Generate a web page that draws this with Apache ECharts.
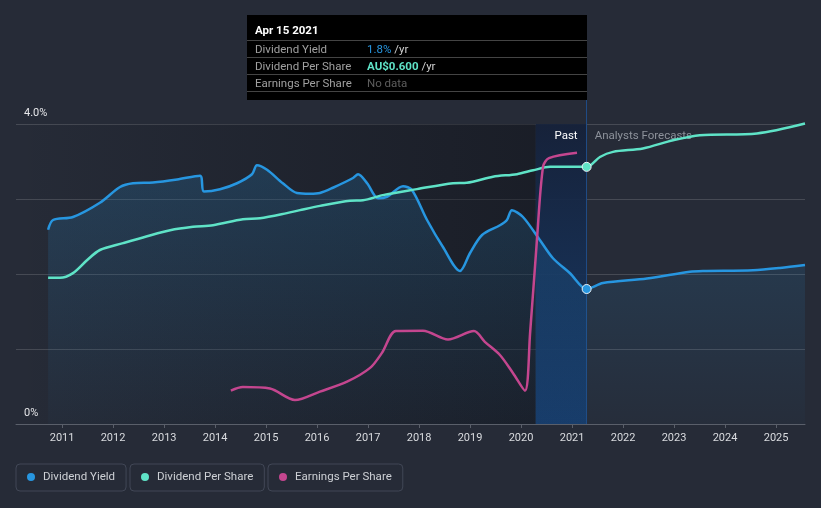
<!DOCTYPE html>
<html><head><meta charset="utf-8">
<script src="https://cdn.jsdelivr.net/npm/echarts@6/dist/echarts.min.js"></script>
<style>html,body{margin:0;padding:0;background:#262b37;}#c{width:821px;height:508px;}</style>
</head><body><div id="c"></div>
<script>
// ---------------- DATA ----------------
const yearTicks = [2011,2012,2013,2014,2015,2016,2017,2018,2019,2020,2021,2022,2023,2024,2025];
const currentDate = '2021-04-15';
const pastBandStart = '2020-04-15';

const yieldDates = ['2010-09-23','2010-10-28','2011-03-20','2011-09-29','2012-02-20','2012-05-23','2012-10-13','2013-04-04','2013-09-15','2013-10-13','2014-02-05','2014-06-07','2014-09-22','2014-10-28','2015-01-08','2015-05-01','2015-08-10','2015-11-11','2016-01-22','2016-04-24','2016-09-15','2016-10-21','2016-12-25','2017-03-13','2017-05-16','2017-09-08','2017-11-11','2018-02-27','2018-06-21','2018-10-21','2019-01-01','2019-03-28','2019-08-03','2019-09-22','2019-10-28','2020-01-15','2020-05-16','2020-08-17','2020-12-17','2021-04-15','2021-08-10','2022-06-21','2023-04-24','2023-07-27','2024-07-19','2025-01-29','2025-07-27'];
const yieldValues = [2.59,2.72,2.76,2.95,3.16,3.21,3.22,3.26,3.31,3.10,3.13,3.21,3.33,3.45,3.39,3.21,3.08,3.07,3.08,3.15,3.28,3.33,3.21,3.01,3.03,3.17,3.12,2.72,2.36,2.04,2.28,2.52,2.65,2.72,2.85,2.76,2.45,2.21,2.01,1.8,1.88,1.94,2.03,2.04,2.05,2.08,2.12];

const dpsDates = ['2010-09-23','2010-12-17','2011-03-20','2011-06-28','2011-09-29','2012-03-13','2012-09-01','2013-02-13','2013-07-27','2013-12-17','2014-07-19','2014-11-18','2015-05-30','2015-09-01','2016-01-22','2016-08-24','2016-11-25','2017-04-17','2017-12-17','2018-09-01','2018-12-09','2019-06-14','2019-12-03','2020-03-28','2020-07-27','2021-04-15','2021-07-19','2021-10-21','2022-05-23','2022-12-25','2023-07-05','2024-08-17','2025-07-27'];
const dpsValues = [0.341,0.341,0.352,0.382,0.406,0.422,0.438,0.452,0.460,0.464,0.478,0.480,0.492,0.499,0.509,0.521,0.522,0.534,0.548,0.562,0.563,0.577,0.583,0.592,0.600,0.600,0.623,0.635,0.643,0.662,0.674,0.678,0.701];

const epsDates = ['2014-04-24','2014-07-19','2015-01-29','2015-07-27','2016-01-22','2016-08-03','2017-01-15','2017-04-10','2017-07-19','2018-01-29','2018-07-27','2019-01-29','2019-04-17','2019-08-03','2019-11-04','2020-01-29','2020-03-06','2020-04-24','2020-06-07','2020-07-19','2021-02-05'];
const epsValues = [0.111,0.123,0.118,0.080,0.108,0.141,0.187,0.237,0.310,0.311,0.282,0.310,0.274,0.230,0.170,0.111,0.303,0.613,0.858,0.886,0.904];

// ---------------- STYLE ----------------
const BLUE = '#2796e0', TEAL = '#5fe3c7', PINK = '#c4468f';
const FONT = 'Roboto, "Noto Sans", sans-serif';
function ts(s){ const p = s.split('-').map(Number); return new Date(p[0], p[1]-1, p[2]).getTime(); }
const X_MIN = new Date(2010,1,5).getTime();
const X_MAX = new Date(2025,6,27).getTime();
const yearStamps = yearTicks.map(y=>new Date(y,0,1).getTime());

function build(dates, vals, color){
  return dates.map((d,i)=>{
    if (d === currentDate) {
      return {value:[ts(d), vals[i]], symbol:'circle', symbolSize:9,
        itemStyle:{color:color, borderColor:'#eef3f8', borderWidth:1}};
    }
    return {value:[ts(d), vals[i]]};
  });
}
const yieldData = build(yieldDates, yieldValues, BLUE);
const dpsData = build(dpsDates, dpsValues, TEAL);
const epsData = build(epsDates, epsValues, PINK);
const curIdx = yieldDates.indexOf(currentDate);

const chart = echarts.init(document.getElementById('c'), null, {renderer:'canvas'});

const legendCommon = {
  orient:'horizontal', icon:'circle', itemWidth:8, itemHeight:8, top:464,
  borderColor:'#414756', borderWidth:1, borderRadius:4, padding:[6,11,7,11],
  selectedMode:false,
  textStyle:{color:'#cdd0d5', fontSize:11.5, fontFamily:FONT, lineHeight:14, padding:[0,0,0,3]}
};

const tipHtml = `<div style="width:340px;height:85px;box-sizing:border-box;padding-top:7px;font-family:Roboto,sans-serif;font-size:11.5px;">
<div style="line-height:16px;height:16px;padding-left:8px;color:#fff;font-weight:bold;margin-bottom:2px;">Apr 15 2021</div>
<div style="border-top:1px solid #444;height:16px;line-height:16px;padding-left:8px;display:flex;"><span style="width:112px;color:#a0a0a0;">Dividend Yield</span><span style="color:${BLUE};">1.8%</span><span style="color:#d0d0d0;">&nbsp;/yr</span></div>
<div style="border-top:1px solid #444;height:16px;line-height:16px;padding-left:8px;display:flex;"><span style="width:112px;color:#a0a0a0;">Dividend Per Share</span><span style="color:${TEAL};font-weight:bold;">AU$0.600</span><span style="color:#d0d0d0;">&nbsp;/yr</span></div>
<div style="border-top:1px solid #444;border-bottom:1px solid #444;height:16px;line-height:16px;padding-left:8px;display:flex;"><span style="width:112px;color:#a0a0a0;">Earnings Per Share</span><span style="color:#5e5e5e;">No data</span></div>
</div>`;

const option = {
  animation:false,
  backgroundColor:'#262b37',
  textStyle:{fontFamily:FONT},
  grid:{left:16, right:16, top:100, bottom:84, containLabel:false, outerBoundsMode:'none'},
  tooltip:{
    trigger:'item', triggerOn:'none', alwaysShowContent:true,
    position:[247,15], padding:0, backgroundColor:'#000', borderWidth:0,
    transitionDuration:0, confine:false,
    extraCssText:'box-shadow:none;border-radius:0;',
    formatter:()=>tipHtml
  },
  legend:[
    Object.assign({}, legendCommon, {left:16, data:['Dividend Yield']}),
    Object.assign({}, legendCommon, {left:130, data:['Dividend Per Share']}),
    Object.assign({}, legendCommon, {left:268, data:['Earnings Per Share']})
  ],
  xAxis:{
    type:'value', min:X_MIN, max:X_MAX, scale:true,
    axisLine:{show:true, lineStyle:{color:'#5a5f6a', width:1}},
    axisTick:{show:true, length:4, lineStyle:{color:'#5a5f6a'}, customValues: yearStamps},
    axisLabel:{color:'#d9dbdf', fontSize:11, fontFamily:FONT, margin:9,
      customValues: yearStamps,
      formatter:(v)=>String(new Date(v).getFullYear())},
    splitLine:{show:false}
  },
  yAxis:[
    {type:'value', min:0, max:4.32, interval:1,
      axisLine:{show:false}, axisTick:{show:false},
      splitLine:{show:true, showMaxLine:false, lineStyle:{color:'rgba(255,255,255,0.15)', width:1}},
      axisLabel:{inside:true, margin:8, color:'#e6e7ea', fontSize:11, fontFamily:FONT,
        verticalAlign:'bottom', padding:[0,0,5,0],
        formatter:(v)=> v===0 ? '0%' : (v===4 ? '4.0%' : '')}},
    {type:'value', min:0, max:0.756, show:false, splitLine:{show:false}},
    {type:'value', min:0, max:1.08, show:false, splitLine:{show:false}}
  ],
  series:[
    {name:'Dividend Yield', type:'line', yAxisIndex:0, data:yieldData, smooth:0.3,
      symbol:'none', showSymbol:true, z:3,
      lineStyle:{color:BLUE, width:2.5}, itemStyle:{color:BLUE},
      areaStyle:{color:{type:'linear', x:0, y:0, x2:0, y2:1, colorStops:[
        {offset:0, color:'rgba(39,150,224,0.28)'}, {offset:1, color:'rgba(39,150,224,0.03)'}]}},
      markArea:{silent:true, z:1, data:[
        [{coord:[X_MIN,0], itemStyle:{color:{type:'linear', x:0, y:0, x2:1, y2:0, colorStops:[
            {offset:0, color:'rgba(8,10,16,0)'}, {offset:1, color:'rgba(8,10,16,0.4)'}]}}},
         {coord:[ts(pastBandStart),4]}],
        [{coord:[ts(pastBandStart),0], name:'Past',
          itemStyle:{color:{type:'linear', x:0, y:0, x2:0, y2:1, colorStops:[
            {offset:0, color:'rgba(21,33,58,0.92)'}, {offset:1, color:'rgba(22,60,108,0.92)'}]}},
          label:{show:true, position:'insideTopRight', distance:5, offset:[-4,1], color:'#ffffff', fontSize:11.5, fontFamily:FONT}},
         {coord:[ts(currentDate),4]}],
        [{coord:[ts(currentDate),0], name:'Analysts Forecasts',
          itemStyle:{color:'rgba(0,0,0,0)'},
          label:{show:true, position:'insideTopLeft', distance:5, offset:[3,1], color:'#8d929b', fontSize:11.5, fontFamily:FONT}},
         {coord:[X_MAX,4]}]
      ]},
      markLine:{silent:true, z:2, symbol:['none','none'], label:{show:false},
        lineStyle:{color:'#1f4b85', width:1, type:'solid'},
        data:[{xAxis:ts(currentDate)}]}
    },
    {name:'Dividend Per Share', type:'line', yAxisIndex:1, data:dpsData, smooth:0.3,
      symbol:'none', showSymbol:true, z:4,
      lineStyle:{color:TEAL, width:2.5}, itemStyle:{color:TEAL}},
    {name:'Earnings Per Share', type:'line', yAxisIndex:2, data:epsData, smooth:0.3,
      symbol:'none', showSymbol:false, z:4,
      lineStyle:{color:PINK, width:2.5}, itemStyle:{color:PINK}}
  ]
};
chart.setOption(option);
function tip(){ chart.dispatchAction({type:'showTip', seriesIndex:0, dataIndex:curIdx}); }
tip();
setTimeout(tip, 50);
</script>
</body></html>
